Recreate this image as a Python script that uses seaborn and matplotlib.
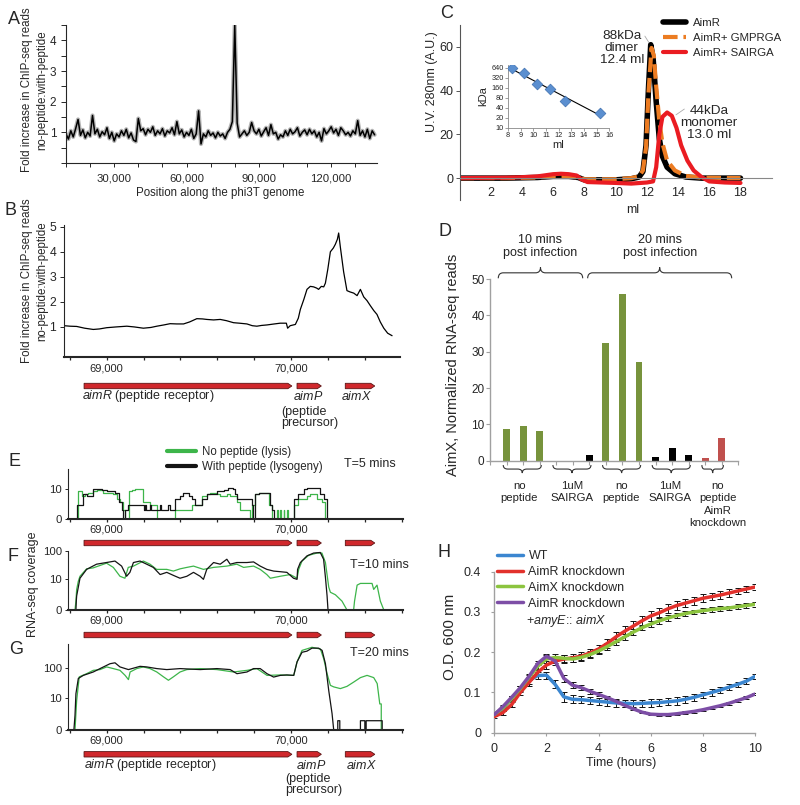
import numpy as np
import pandas as pd
import matplotlib
matplotlib.use("Agg")
import matplotlib.pyplot as plt
from matplotlib.path import Path
from matplotlib.patches import PathPatch
from matplotlib.ticker import MultipleLocator, FixedLocator
import seaborn as sns

sns.set_style("ticks")
plt.rcParams["font.family"] = ["Liberation Sans", "DejaVu Sans"]
plt.rcParams["mathtext.fontset"] = "custom"
plt.rcParams["mathtext.rm"] = "Liberation Sans"
plt.rcParams["mathtext.it"] = "Liberation Sans:italic"
plt.rcParams["axes.linewidth"] = 0.8

# ---------------- data ----------------
# A: ChIP-seq fold change along the whole genome, one value per kb
a_pos = np.arange(129) * 1000
a_fold = [0.95, 0.78, 1.05, 0.85, 1.12, 1.42, 0.9, 1.08, 0.82, 1.0,
          0.88, 1.55, 0.95, 1.1, 0.85, 1.02, 0.92, 1.15, 0.8, 1.0,
          0.72, 0.95, 0.85, 1.05, 0.9, 1.1, 0.82, 0.98, 0.75, 0.7,
          1.45, 1.05, 1.12, 0.92, 1.1, 1.0, 1.18, 0.9, 1.05, 0.95,
          1.12, 0.88, 1.05, 0.98, 1.15, 0.92, 1.35, 0.95, 1.08, 0.85,
          1.0, 0.9, 1.1, 0.8, 0.95, 1.7, 0.62, 0.95, 0.85, 1.05,
          0.9, 0.98, 0.82, 1.0, 0.88, 0.95, 0.8, 1.0, 1.1, 1.35,
          4.5, 1.3, 0.85, 0.95, 1.05, 0.9, 1.0, 1.32, 1.05, 0.95,
          1.1, 0.88, 1.02, 1.15, 0.9, 1.25, 0.95, 1.0, 0.78, 0.92,
          0.85, 1.05, 0.9, 1.1, 0.95, 1.02, 1.15, 0.88, 1.0, 1.08,
          0.92, 1.1, 0.95, 1.05, 0.85, 1.0, 0.72, 1.12, 0.95, 1.05,
          1.18, 0.98, 1.1, 0.9, 1.15, 1.05, 0.92, 1.0, 0.88, 1.05,
          0.95, 1.38, 0.9, 1.05, 0.85, 1.1, 0.8, 1.05, 0.92]
a_tick_pos = [20000, 50000, 80000, 110000]
a_tick_lab = ["30,000", "60,000", "90,000", "120,000"]

# B: zoom on the aimR/aimP/aimX locus
b_pos = [68768, 68800, 68837, 68880, 68927, 68960, 69000, 69050, 69109, 69150,
         69199, 69240, 69272, 69310, 69344, 69380, 69417, 69450, 69489, 69520,
         69543, 69580, 69616, 69650, 69688, 69720, 69761, 69790, 69815, 69840,
         69870, 69910, 69942, 69975, 69982, 69996, 70024, 70040, 70051, 70070,
         70087, 70105, 70123, 70140, 70150, 70165, 70178, 70187, 70200, 70214,
         70230, 70241, 70252, 70259, 70268, 70286, 70304, 70320, 70341, 70359,
         70377, 70395, 70413, 70431, 70450, 70467, 70485, 70504, 70525, 70549]
b_fold = [1.05, 1.03, 1.02, 0.95, 0.9, 0.92, 0.97, 1.0, 1.03, 1.0,
          0.95, 0.98, 1.03, 1.08, 1.13, 1.12, 1.12, 1.2, 1.33, 1.32,
          1.3, 1.28, 1.3, 1.25, 1.17, 1.15, 1.12, 1.05, 1.03, 1.06,
          1.08, 1.12, 1.15, 1.15, 0.95, 1.05, 1.1, 1.35, 1.7, 2.1,
          2.5, 2.62, 2.6, 2.55, 2.5, 2.62, 2.6, 2.75, 3.3, 4.0,
          4.15, 4.3, 4.5, 4.75, 4.2, 3.2, 2.45, 2.4, 2.35, 2.25,
          2.5, 2.2, 2.05, 1.85, 1.65, 1.5, 1.2, 0.95, 0.75, 0.65]

gene_names = ["aimR", "aimP", "aimX"]
gene_start = [68877, 70033, 70295]
gene_end = [70005, 70165, 70455]

# C: size exclusion chromatography
c_black_ml = [0, 3, 5, 6, 7, 7.6, 8, 10, 11, 11.5, 11.75, 11.95, 12.1, 12.25,
              12.4, 12.6, 12.8, 13.0, 13.3, 13.8, 14.5, 15.5, 18]
c_black_uv = [0, 0, 0.3, 0.8, 0.8, 0.3, -0.8, -0.8, -0.3, 0.5, 3, 15, 40, 61,
              55, 35, 18, 10, 5, 2, 0.5, 0, 0]
c_orange_ml = [0, 3, 5, 6, 7, 7.6, 8, 10, 11, 11.5, 11.75, 11.95, 12.1, 12.3,
               12.45, 12.6, 12.8, 13.0, 13.3, 13.8, 14.5, 15.5, 18]
c_orange_uv = [0, 0, 0.3, 0.8, 0.8, 0.3, -0.5, -0.5, 0, 0.8, 3.5, 14, 38, 59.5,
               56, 42, 26, 16, 8, 3.5, 1, 0.2, 0]
c_red_ml = [0, 3, 4, 5, 5.5, 6, 6.5, 7, 7.5, 7.8, 8.2, 10, 11, 12, 12.4, 12.6,
            12.8, 13.0, 13.3, 13.6, 13.9, 14.2, 14.6, 15, 15.5, 16, 17, 18]
c_red_uv = [0, 0.2, 0.4, 0.8, 1.3, 1.8, 2, 1.8, 1.2, -0.5, -1.8, -2.2, -2.5, -2,
            -1.5, 5, 20, 28, 30, 28.5, 23, 15, 8, 3.5, 0.5, -1.5, -2, -2.2]
c_labels = ["AimR", "AimR+ GMPRGA", "AimR+ SAIRGA"]
inset_ml = [8.3, 9.3, 10.3, 11.3, 12.5, 15.3]
inset_kda = [640, 434, 203, 143, 65, 28]
inset_yticks = [10, 20, 40, 80, 160, 320, 640]

# D: AimX RNA-seq reads
d_groups = ["no\npeptide", "1uM\nSAIRGA", "no\npeptide", "1uM\nSAIRGA",
            "no\npeptide\nAimR\nknockdown"]
d_values = [[8.6, 9.5, 8.2], [0, 0, 1.6], [32.3, 45.8, 27.2], [1.0, 3.5, 1.6],
            [0.8, 6.2]]
d_colors = ["#77933c", "#000000", "#77933c", "#000000", "#c0504d"]
d_label_shift = [-0.24, -0.02, -0.07, -0.12, 0.25]
d_time_labels = ["10 mins\npost infection", "20 mins\npost infection"]
d_time_spans = [(-0.5, 4.6), (4.9, 13.6)]

# E/F/G: RNA-seq coverage (no peptide = green, with peptide = black)
e_black_pos = [68835, 68840, 68873, 68891, 68925, 68973, 69000, 69045, 69069, 69081,
               69088, 69099, 69117, 69200, 69208, 69214, 69235, 69240, 69290, 69296,
               69335, 69341, 69371, 69398, 69416, 69444, 69462, 69480, 69516, 69543,
               69598, 69634, 69661, 69688, 69697, 69706, 69788, 69793, 69806, 69824,
               69884, 69897, 69906, 70014, 70036, 70069, 70087, 70159, 70177, 70196]
e_black_cov = [0, 2, 6, 5, 10, 9, 8, 7, 3, 1,
               0, 1, 2, 1, 2, 1, 2, 1, 2, 1,
               2, 1, 4, 5, 7, 5, 4, 2, 4, 6,
               8, 9, 11, 10, 6, 4, 2, 0, 6, 7,
               2, 1, 0, 4, 6, 10, 11, 6, 4, 0]
e_green_pos = [68837, 68846, 68864, 68882, 68900, 68927, 68945, 68982, 69036, 69058,
               69072, 69090, 69099, 69123, 69136, 69154, 69199, 69235, 69271, 69371,
               69462, 69516, 69543, 69561, 69598, 69616, 69652, 69670, 69706, 69724,
               69779, 69788, 69806, 69824, 69879, 69897, 69924, 69928, 69942, 69946,
               69960, 69964, 69978, 69982, 70014, 70036, 70087, 70105, 70141, 70168,
               70187]
e_green_cov = [0, 8, 5, 6, 7, 8, 9, 7, 6, 4,
               3, 1, 0, 8, 9, 10, 3, 2, 0, 1,
               2, 5, 6, 7, 6, 5, 6, 5, 3, 1,
               0, 2, 6, 7, 2, 0, 1, 0, 1, 0,
               1, 0, 1, 0, 2, 4, 5, 6, 4, 3,
               0]
f_black_pos = [68833, 68835, 68837, 68846, 68855, 68891, 68945, 69018, 69045, 69081,
               69108, 69126, 69145, 69181, 69217, 69253, 69290, 69326, 69362, 69398,
               69435, 69471, 69507, 69525, 69543, 69580, 69616, 69652, 69670, 69706,
               69761, 69797, 69833, 69869, 69906, 69942, 69978, 70014, 70033, 70036,
               70051, 70087, 70123, 70159, 70177, 70187, 70196, 70201]
f_black_cov = [0, 1, 2, 5, 11, 23, 35, 42, 45, 30,
               13, 18, 40, 45, 35, 27, 15, 18, 14, 11,
               13, 18, 13, 10, 23, 40, 35, 52, 35, 40,
               40, 42, 30, 23, 20, 19, 18, 11, 10, 23,
               40, 68, 85, 89, 52, 12, 2, 0]
f_green_pos = [68828, 68833, 68837, 68846, 68855, 68891, 68927, 68999, 69036, 69072,
               69099, 69117, 69145, 69199, 69235, 69271, 69326, 69362, 69398, 69435,
               69471, 69525, 69580, 69652, 69706, 69743, 69797, 69833, 69869, 69888,
               69942, 69996, 70033, 70042, 70060, 70096, 70141, 70168, 70187, 70205,
               70214, 70241, 70277, 70304, 70340, 70345, 70359, 70377, 70440, 70449,
               70467, 70485, 70504]
f_green_cov = [0, 1, 4, 8.5, 13, 24, 26, 38, 27, 13,
               11, 27, 30, 45, 35, 23, 23, 20, 24, 27,
               30, 23, 27, 30, 35, 27, 30, 23, 15, 11,
               13, 15, 11, 23, 45, 71, 85, 85, 40, 5,
               3, 2.3, 1, 0, 0, 1, 6, 7, 7, 4,
               6, 1, 0]
g_black_pos = [68822, 68828, 68833, 68846, 68873, 68927, 68964, 69018, 69045, 69072,
               69118, 69145, 69181, 69217, 69272, 69326, 69398, 69507, 69598, 69670,
               69707, 69761, 69797, 69833, 69870, 69906, 69942, 69978, 70015, 70033,
               70060, 70087, 70114, 70150, 70169, 70187, 70205, 70223, 70232, 70254,
               70254, 70265, 70265, 70377, 70377, 70401, 70401, 70408, 70408, 70495,
               70495]
g_black_cov = [0, 2, 14, 46, 58, 75, 97, 140, 150, 110,
               90, 100, 115, 110, 97, 90, 97, 90, 97, 90,
               66, 75, 97, 97, 66, 51, 58, 60, 58, 160,
               330, 360, 450, 450, 380, 140, 18, 2.4, 0, 0,
               1, 1, 0, 0, 1, 1, 0, 0, 1, 1,
               0]
g_green_pos = [68828, 68837, 68851, 68891, 68927, 68964, 69000, 69036, 69072, 69100,
               69118, 69127, 69163, 69199, 69235, 69272, 69308, 69335, 69362, 69398,
               69435, 69507, 69598, 69688, 69761, 69815, 69870, 69942, 70015, 70033,
               70060, 70114, 70160, 70178, 70196, 70214, 70232, 70268, 70304, 70341,
               70377, 70413, 70449, 70468, 70482, 70490, 70490, 70500]
g_green_cov = [0, 8, 52, 66, 85, 90, 110, 97, 85, 58,
               42, 75, 97, 110, 97, 75, 52, 40, 52, 75,
               90, 97, 90, 75, 85, 97, 58, 60, 58, 160,
               380, 480, 420, 200, 66, 27, 24, 21, 25, 35,
               49, 58, 49, 31, 6, 6, 0, 0]
cov_labels = ["No peptide (lysis)", "With peptide (lysogeny)"]
cov_times = ["T=5 mins", "T=10 mins", "T=20 mins"]

# H: growth curves, readings every 20 min
h_time = np.linspace(0, 10, 31)
h_wt = [0.045, 0.06, 0.085, 0.108, 0.13, 0.142, 0.143, 0.12, 0.089, 0.083, 0.082,
        0.08, 0.078, 0.076, 0.074, 0.073, 0.072, 0.073, 0.074, 0.075, 0.077, 0.079,
        0.083, 0.088, 0.094, 0.1, 0.106, 0.113, 0.12, 0.128, 0.14]
h_aimr = [0.04, 0.05, 0.07, 0.1, 0.125, 0.15, 0.168, 0.178, 0.183, 0.186, 0.19,
          0.198, 0.208, 0.222, 0.238, 0.252, 0.265, 0.278, 0.29, 0.298, 0.308, 0.316,
          0.322, 0.328, 0.334, 0.338, 0.342, 0.347, 0.352, 0.357, 0.362]
h_aimx = [0.045, 0.062, 0.085, 0.11, 0.138, 0.165, 0.183, 0.187, 0.185, 0.183, 0.187,
          0.194, 0.203, 0.214, 0.226, 0.238, 0.25, 0.261, 0.27, 0.278, 0.285, 0.291,
          0.296, 0.3, 0.303, 0.306, 0.308, 0.31, 0.313, 0.316, 0.319]
h_comp = [0.045, 0.065, 0.088, 0.112, 0.14, 0.172, 0.19, 0.178, 0.135, 0.118, 0.112,
          0.103, 0.095, 0.087, 0.078, 0.068, 0.059, 0.051, 0.046, 0.045, 0.045, 0.047,
          0.05, 0.053, 0.057, 0.062, 0.067, 0.073, 0.08, 0.087, 0.096]
h_wt_err = [0.004, 0.005, 0.006, 0.007, 0.008, 0.008, 0.009, 0.01, 0.012, 0.01, 0.009,
            0.009, 0.009, 0.009, 0.009, 0.009, 0.009, 0.009, 0.009, 0.009, 0.009, 0.009,
            0.008, 0.008, 0.008, 0.008, 0.008, 0.007, 0.007, 0.007, 0.006]
h_aimr_err = [0.004, 0.005, 0.006, 0.007, 0.008, 0.009, 0.01, 0.01, 0.01, 0.01, 0.01,
              0.011, 0.011, 0.012, 0.012, 0.012, 0.012, 0.012, 0.012, 0.011, 0.011, 0.011,
              0.01, 0.01, 0.01, 0.009, 0.009, 0.009, 0.008, 0.008, 0.008]
h_aimx_err = [0.004, 0.005, 0.006, 0.006, 0.007, 0.008, 0.009, 0.009, 0.009, 0.008, 0.008,
              0.008, 0.008, 0.008, 0.008, 0.008, 0.008, 0.007, 0.007, 0.007, 0.007, 0.007,
              0.007, 0.006, 0.006, 0.006, 0.006, 0.006, 0.006, 0.006, 0.006]
h_comp_err = [0.003, 0.003, 0.004, 0.004, 0.004, 0.005, 0.005, 0.006, 0.008, 0.008, 0.007,
              0.006, 0.005, 0.004, 0.004, 0.004, 0.003, 0.003, 0.003, 0.003, 0.003, 0.003,
              0.003, 0.003, 0.003, 0.003, 0.003, 0.003, 0.003, 0.003, 0.003]
h_strains = ["WT", "AimR knockdown", "AimX knockdown", "AimR knockdown +amyE::aimX"]
h_colors = ["#3b86d0", "#e2312c", "#8cc43f", "#7d4ea6"]

# ---------------- layout helpers ----------------
W, H = 800, 805
fig = plt.figure(figsize=(8, 8.05), dpi=100)


def box(l, t, r, b):
    return [l / W, 1 - b / H, (r - l) / W, (b - t) / H]


def fp(x, y):
    return (x / W, 1 - y / H)


def ftext(x, y, s, **kw):
    kw.setdefault("ha", "center")
    kw.setdefault("va", "center")
    fig.text(x / W, 1 - y / H, s, **kw)


def draw_genes(ax, xlim):
    ax.set_xlim(xlim)
    ax.set_ylim(-1, 1)
    ax.axis("off")
    for s, e in zip(gene_start, gene_end):
        hl = 22
        ax.fill([s, e - hl, e, e - hl, s], [-0.45, -0.45, 0, 0.45, 0.45],
                fc="#d0282c", ec="#5c1414", lw=0.6)


def brace(ax, x0, x1, y_end, y_tip, color="#333333"):
    ym = (y_end + y_tip) / 2
    xm = (x0 + x1) / 2
    r = min(0.3, (x1 - x0) * 0.12)
    verts = [(x0, y_end), (x0, ym), (x0 + r, ym), (xm - r, ym), (xm, ym), (xm, y_tip),
             (xm, ym), (xm + r, ym), (x1 - r, ym), (x1, ym), (x1, y_end)]
    codes = [Path.MOVETO, Path.CURVE3, Path.CURVE3, Path.LINETO, Path.CURVE3, Path.CURVE3,
             Path.CURVE3, Path.CURVE3, Path.LINETO, Path.CURVE3, Path.CURVE3]
    ax.add_patch(PathPatch(Path(verts, codes), fill=False, lw=0.8, ec=color, clip_on=False))


def cov_fwd(v):
    return np.log10(1 + np.clip(v, 0, None))


def cov_inv(v):
    return 10 ** v - 1


for letter, (lx, ly) in {"A": (14, 19), "B": (10, 210), "C": (447, 14), "D": (445, 232),
                         "E": (14, 461), "F": (13, 556), "G": (16, 649), "H": (444, 552)}.items():
    ftext(lx, ly, letter, fontsize=13)

# ---------------- A ----------------
axA = fig.add_axes(box(66, 25, 377, 163))
sns.lineplot(x=a_pos, y=a_fold, ax=axA, color="#b4b4b4", lw=3.0, estimator=None)
sns.lineplot(x=a_pos, y=a_fold, ax=axA, color="black", lw=1.1, estimator=None)
axA.set_xlim(0, 129000)
axA.set_ylim(0, 4.5)
axA.yaxis.set_major_locator(FixedLocator([1, 2, 3, 4]))
axA.yaxis.set_minor_locator(MultipleLocator(0.5))
axA.xaxis.set_major_locator(FixedLocator(a_tick_pos))
axA.set_xticklabels(a_tick_lab)
axA.xaxis.set_minor_locator(MultipleLocator(10000))
axA.tick_params(axis="y", which="both", length=3.5, width=0.7, pad=3.5, labelsize=8.5)
axA.tick_params(axis="x", which="both", length=3, width=0.7, pad=4.5, labelsize=8.2)
axA.set_xlabel("")
axA.set_ylabel("")
sns.despine(ax=axA)
ftext(34.5, 90, "Fold increase in ChIP-seq reads\nno-peptide:with-peptide",
      rotation=90, fontsize=8.3, linespacing=1.35)
ftext(220, 193, "Position along the phi3T genome", fontsize=8.3)

# ---------------- B ----------------
xlim_B = (68768, 70592)
axB = fig.add_axes(box(64, 225, 400, 357))
sns.lineplot(x=b_pos, y=b_fold, ax=axB, color="black", lw=0.9, estimator=None)
axB.set_xlim(xlim_B)
axB.set_ylim(-0.2, 5.07)
axB.set_yticks([1, 2, 3, 4, 5])
axB.xaxis.set_major_locator(FixedLocator([69000, 70000]))
axB.set_xticklabels(["69,000", "70,000"])
axB.xaxis.set_minor_locator(MultipleLocator(200))
axB.tick_params(axis="y", length=3, width=0.7, pad=2.5, labelsize=8.8)
axB.tick_params(axis="x", which="both", length=2.5, width=0.9, pad=2, labelsize=8)
axB.spines["bottom"].set_linewidth(1.5)
axB.set_xlabel("")
axB.set_ylabel("")
sns.despine(ax=axB)
ftext(34.5, 281, "Fold increase in ChIP-seq reads\nno-peptide:with-peptide",
      rotation=90, fontsize=8.3, linespacing=1.35)

trackB = fig.add_axes(box(64, 380, 400, 392))
draw_genes(trackB, xlim_B)


def gene_labels(y0, xs, gap):
    ftext(xs[0], y0, r"$\it{aimR}$ (peptide receptor)", ha="left", fontsize=9)
    ftext(xs[1], y0, r"$\it{aimP}$", ha="left", fontsize=9)
    ftext(xs[2], y0 + gap, "(peptide\nprecursor)", ha="left", va="top", fontsize=9,
          linespacing=0.98)
    ftext(xs[3], y0, r"$\it{aimX}$", ha="left", fontsize=9)


gene_labels(396, [82, 293, 281, 341], 9.5)

# ---------------- C ----------------
axC = fig.add_axes(box(459.5, 25, 771.7, 200))
sns.lineplot(x=c_black_ml, y=c_black_uv, ax=axC, color="black", lw=4, label=c_labels[0],
             estimator=None, sort=False)
sns.lineplot(x=c_orange_ml, y=c_orange_uv, ax=axC, color="#ec7c22", lw=3,
             linestyle=(0, (3.5, 1.4)), label=c_labels[1], estimator=None, sort=False)
sns.lineplot(x=c_red_ml, y=c_red_uv, ax=axC, color="#ea1c22", lw=3, label=c_labels[2],
             estimator=None, sort=False)
axC.set_xlim(0, 20)
axC.set_ylim(-10, 70)
axC.set_yticks([0, 20, 40, 60])
axC.set_xticks(np.arange(2, 19, 2))
axC.spines["bottom"].set_position(("data", 0))
axC.spines["bottom"].set_color("#888888")
axC.spines["left"].set_color("#555555")
axC.tick_params(axis="y", length=3, width=0.7, pad=1.5, labelsize=9, color="#555555")
axC.tick_params(axis="x", length=0, pad=6.5, labelsize=9)
axC.set_xlabel("")
axC.set_ylabel("")
sns.despine(ax=axC)
axC.legend(loc="upper left", bbox_to_anchor=fp(663, 18), bbox_transform=fig.transFigure,
           frameon=False, fontsize=8.2, handlelength=2.0, handletextpad=0.65,
           labelspacing=0.45, borderaxespad=0, borderpad=0)
ftext(431.5, 82, "U.V. 280nm (A.U.)", rotation=90, fontsize=9)
ftext(633, 210, "ml", fontsize=9)
ftext(621.7, 48, "88kDa\ndimer\n12.4 ml", fontsize=9.7, linespacing=1.05)
ftext(709, 123.5, "44kDa\nmonomer\n13.0 ml", fontsize=9.7, linespacing=1.0)
axC.annotate("", xy=(12.22, 61), xytext=(11.78, 66),
             arrowprops=dict(arrowstyle="-", color="#aaaaaa", lw=0.6))
axC.annotate("", xy=(13.72, 28.2), xytext=(14.55, 32.3),
             arrowprops=dict(arrowstyle="-", color="#aaaaaa", lw=0.6))

axI = fig.add_axes(box(508, 65, 609.3, 127.7))
axI.patch.set_alpha(0)
slope, icpt = np.polyfit(inset_ml, np.log(inset_kda), 1)
fit_x = np.array([min(inset_ml), max(inset_ml)])
sns.lineplot(x=fit_x, y=np.exp(icpt + slope * fit_x), ax=axI, color="black", lw=0.8)
sns.scatterplot(x=inset_ml, y=inset_kda, ax=axI, marker="D", s=30, color="#5b8fd0",
                edgecolor="#3e6fae", linewidth=0.5, zorder=3)
axI.set_yscale("log", base=2)
axI.set_xlim(8, 16)
axI.set_ylim(10, 780)
axI.set_yticks(inset_yticks)
axI.set_yticklabels([str(v) for v in inset_yticks])
axI.yaxis.set_minor_locator(FixedLocator([]))
axI.set_xticks(range(8, 17))
axI.tick_params(length=2, width=0.5, pad=1, labelsize=5.3, color="#777777")
for sp in axI.spines.values():
    sp.set_color("#888888")
    sp.set_linewidth(0.6)
sns.despine(ax=axI)
axI.set_xlabel("ml", fontsize=8, labelpad=1)
axI.set_ylabel("kDa", fontsize=8, labelpad=2)

# ---------------- D ----------------
axD = fig.add_axes(box(490, 279, 738.3, 460.7))
idx = 0
group_spans = []
for vals, col in zip(d_values, d_colors):
    xs = np.arange(idx, idx + len(vals), dtype=float)
    sns.barplot(x=xs, y=vals, color=col, native_scale=True, width=0.42, saturation=1,
                errorbar=None, linewidth=0, ax=axD)
    group_spans.append((xs[0], xs[-1]))
    idx += len(vals)
axD.set_xlim(-1, 14)
axD.set_ylim(0, 50)
axD.set_yticks([0, 10, 20, 30, 40, 50])
axD.set_xticks(np.arange(-1, 15))
axD.set_xticklabels([])
for sp in ["left", "bottom"]:
    axD.spines[sp].set_color("#a0a0a0")
    axD.spines[sp].set_linewidth(1.0)
axD.tick_params(axis="y", length=3, width=0.8, pad=1, labelsize=8.5, color="#a0a0a0")
axD.tick_params(axis="x", length=3, width=0.8, color="#a0a0a0")
axD.set_xlabel("")
axD.set_ylabel("")
sns.despine(ax=axD)
for (g0, g1), lab, shift in zip(group_spans, d_groups, d_label_shift):
    brace(axD, g0 - 0.2, g1 + 0.1, -1.2, -3.4)
    axD.text((g0 + g1) / 2 + shift, -5.6, lab, ha="center", va="top", fontsize=8.2,
             linespacing=1.3, color="#222222")
for (s0, s1), lab in zip(d_time_spans, d_time_labels):
    brace(axD, s0, s1, 50.2, 53.2)
    axD.text((s0 + s1) / 2, 55.4, lab, ha="center", va="bottom", fontsize=9,
             linespacing=1.2, color="#222222")
ftext(452.5, 365, "AimX, Normalized RNA-seq reads", rotation=90, fontsize=10.5)

# ---------------- E / F / G ----------------
xlim_cov = (68790, 70608)
cov_panels = [
    (box(68, 469, 403, 519.3), e_green_pos, e_green_cov, e_black_pos, e_black_cov, 50, [0, 10], "steps-post"),
    (box(68, 551, 403, 610), f_green_pos, f_green_cov, f_black_pos, f_black_cov, 100, [0, 10, 100], "default"),
    (box(68, 644.3, 403, 730), g_green_pos, g_green_cov, g_black_pos, g_black_cov, 600, [0, 10, 100], "default"),
]
cov_axes = []
for rect, gp, gc, bp, bc, ytop, yt, ds in cov_panels:
    ax = fig.add_axes(rect)
    sns.lineplot(x=gp, y=gc, ax=ax, color="#3db54a", lw=0.9, estimator=None, sort=False,
                 drawstyle=ds, label=cov_labels[0])
    sns.lineplot(x=bp, y=bc, ax=ax, color="#141414", lw=0.9, estimator=None, sort=False,
                 drawstyle=ds, label=cov_labels[1])
    ax.set_yscale("function", functions=(cov_fwd, cov_inv))
    ax.set_ylim(0, ytop)
    ax.set_yticks(yt)
    ax.set_yticklabels([str(v) for v in yt])
    ax.set_xlim(xlim_cov)
    ax.xaxis.set_major_locator(FixedLocator([69000, 70000]))
    ax.set_xticklabels(["69,000", "70,000"])
    ax.xaxis.set_minor_locator(MultipleLocator(200))
    ax.yaxis.set_minor_locator(FixedLocator([]))
    ax.tick_params(axis="y", length=2.5, width=0.7, pad=2, labelsize=8.2)
    ax.tick_params(axis="x", which="both", length=2.2, width=0.9, pad=1.8, labelsize=8)
    ax.spines["bottom"].set_linewidth(1.5)
    ax.set_xlabel("")
    ax.set_ylabel("")
    sns.despine(ax=ax)
    cov_axes.append(ax)

legE = cov_axes[0].legend(loc="upper left", bbox_to_anchor=fp(166.5, 446),
                          bbox_transform=fig.transFigure, frameon=False, fontsize=8.3,
                          handlelength=2.6, handletextpad=0.45, labelspacing=0.27,
                          borderaxespad=0, borderpad=0)
for ln in legE.get_lines():
    ln.set_linewidth(3)
for ax in cov_axes[1:]:
    ax.get_legend().remove()

for (tx, ty), lab in zip([(344, 464.3), (350, 565), (350, 653.3)], cov_times):
    ftext(tx, ty, lab, ha="left", fontsize=9)
ftext(33, 584, "RNA-seq coverage", rotation=90, fontsize=9)

trackF = fig.add_axes(box(68, 537, 403, 549))
draw_genes(trackF, xlim_cov)
trackG = fig.add_axes(box(68, 629, 403, 641))
draw_genes(trackG, xlim_cov)
trackG2 = fig.add_axes(box(68, 748.3, 403, 760.3))
draw_genes(trackG2, xlim_cov)
gene_labels(765, [84, 296, 285, 345.5], 7.5)

# ---------------- H ----------------
dfH = pd.DataFrame({
    "time": np.tile(h_time, 4),
    "od": h_wt + h_aimr + h_aimx + h_comp,
    "strain": np.repeat(h_strains, len(h_time)),
})
axH = fig.add_axes(box(494.3, 571.7, 755, 732.7))
sns.lineplot(data=dfH, x="time", y="od", hue="strain", hue_order=h_strains,
             palette=h_colors, lw=2.5, ax=axH, zorder=3)
for vals, err in zip([h_wt, h_aimr, h_aimx, h_comp],
                     [h_wt_err, h_aimr_err, h_aimx_err, h_comp_err]):
    axH.errorbar(h_time, vals, yerr=err, fmt="none", ecolor="#111111", elinewidth=0.7,
                 capsize=2.5, capthick=0.7, zorder=2)
axH.set_xlim(0, 10)
axH.set_ylim(0, 0.4)
axH.set_xticks([0, 2, 4, 6, 8, 10])
axH.set_yticks([0, 0.1, 0.2, 0.3, 0.4])
axH.set_yticklabels(["0", "0.1", "0.2", "0.3", "0.4"])
for sp in ["left", "bottom"]:
    axH.spines[sp].set_color("#a0a0a0")
    axH.spines[sp].set_linewidth(1.0)
axH.tick_params(axis="y", length=2.5, width=0.8, pad=7, labelsize=9, color="#a0a0a0")
axH.tick_params(axis="x", length=2.5, width=0.8, pad=5, labelsize=9, color="#a0a0a0")
axH.set_xlabel("")
axH.set_ylabel("")
sns.despine(ax=axH)
handles, _ = axH.get_legend_handles_labels()
legH = axH.legend(handles[:4], ["WT", "AimR knockdown", "AimX knockdown", "AimR knockdown"],
                  loc="upper left", bbox_to_anchor=fp(497, 550), bbox_transform=fig.transFigure,
                  frameon=False, fontsize=9, handlelength=2.1, handletextpad=0.42,
                  labelspacing=0.31, borderaxespad=0, borderpad=0)
for ln in legH.get_lines():
    ln.set_linewidth(2.5)
ftext(526, 620.7, r"+$\it{amyE}$:: $\it{aimX}$", ha="left", fontsize=9)
ftext(450.5, 636.7, "O.D. 600 nm", rotation=90, fontsize=11)
ftext(620.7, 762.7, "Time (hours)", fontsize=9)

fig.savefig("out.png", dpi=100)
